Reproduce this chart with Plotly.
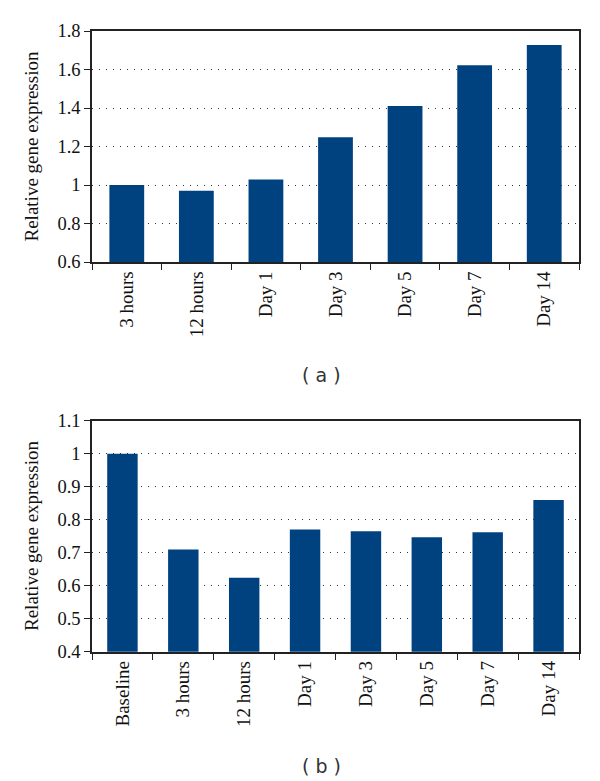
import plotly.graph_objects as go

# Panel (a)
cats_a = ["3 hours", "12 hours", "Day 1", "Day 3", "Day 5", "Day 7", "Day 14"]
vals_a = [1.0, 0.97, 1.028, 1.248, 1.41, 1.622, 1.727]
ticks_a = [0.6, 0.8, 1.0, 1.2, 1.4, 1.6, 1.8]
ticktext_a = ["0.6", "0.8", "1", "1.2", "1.4", "1.6", "1.8"]

# Panel (b)
cats_b = ["Baseline", "3 hours", "12 hours", "Day 1", "Day 3", "Day 5", "Day 7", "Day 14"]
vals_b = [1.0, 0.71, 0.624, 0.77, 0.765, 0.747, 0.762, 0.86]
ticks_b = [0.4, 0.5, 0.6, 0.7, 0.8, 0.9, 1.0, 1.1]
ticktext_b = ["0.4", "0.5", "0.6", "0.7", "0.8", "0.9", "1", "1.1"]

BAR = "#00427f"
W, H = 600, 781
SERIF = "Liberation Serif"

fig = go.Figure()
fig.add_trace(go.Bar(x=cats_a, y=vals_a, marker=dict(color=BAR, line=dict(width=0)),
                     xaxis="x", yaxis="y", showlegend=False, hoverinfo="skip"))
fig.add_trace(go.Bar(x=cats_b, y=vals_b, marker=dict(color=BAR, line=dict(width=0)),
                     xaxis="x2", yaxis="y2", showlegend=False, hoverinfo="skip"))

x0, x1 = 92 / W, 579 / W


def xaxis_common(anchor):
    return dict(
        domain=[x0, x1], anchor=anchor, type="category", automargin=False,
        showline=True, linecolor="#222", linewidth=1.6, mirror=True,
        ticks="outside", ticklen=6, tickcolor="#222", tickwidth=1.4,
        tickson="boundaries", tickangle=-90, showgrid=False,
        tickfont=dict(family=SERIF, size=19, color="#111"),
    )


def yaxis_common(anchor, dom, rng, tv, tt):
    return dict(
        domain=dom, anchor=anchor, range=rng, tickvals=tv, ticktext=tt, automargin=False,
        showline=True, linecolor="#222", linewidth=1.6, mirror=True,
        ticks="outside", ticklen=6, tickcolor="#222", tickwidth=1.4,
        showgrid=True, gridcolor="#333", gridwidth=1.3, griddash="1.3px,5.7px",
        zeroline=False,
        tickfont=dict(family=SERIF, size=18.5, color="#111"),
    )


fig.update_layout(
    width=W, height=H,
    margin=dict(l=0, r=0, t=0, b=0, autoexpand=False),
    paper_bgcolor="white", plot_bgcolor="white",
    bargap=0.5,
    xaxis=xaxis_common("y"),
    yaxis=yaxis_common("x", [1 - 262 / H, 1 - 31 / H], [0.6, 1.8], ticks_a, ticktext_a),
    xaxis2=xaxis_common("y2"),
    yaxis2=yaxis_common("x2", [1 - 651.7 / H, 1 - 420.7 / H], [0.4, 1.1], ticks_b, ticktext_b),
    annotations=[
        dict(text="Relative gene expression", x=31 / W, y=1 - 146.5 / H, xref="paper", yref="paper",
             xanchor="center", yanchor="middle", textangle=-90, showarrow=False,
             font=dict(family=SERIF, size=19, color="#111")),
        dict(text="Relative gene expression", x=31 / W, y=1 - 536 / H, xref="paper", yref="paper",
             xanchor="center", yanchor="middle", textangle=-90, showarrow=False,
             font=dict(family=SERIF, size=19, color="#111")),
        dict(text="( a )", x=321.7 / W, y=1 - 375 / H, xref="paper", yref="paper",
             xanchor="center", yanchor="middle", showarrow=False,
             font=dict(family="DejaVu Sans", size=19, color="#333")),
        dict(text="( b )", x=321.7 / W, y=1 - 766 / H, xref="paper", yref="paper",
             xanchor="center", yanchor="middle", showarrow=False,
             font=dict(family="DejaVu Sans", size=19, color="#333")),
    ],
)

fig.write_html("out.html", config={"displayModeBar": False},
               post_script="document.body.style.margin='0px';")
